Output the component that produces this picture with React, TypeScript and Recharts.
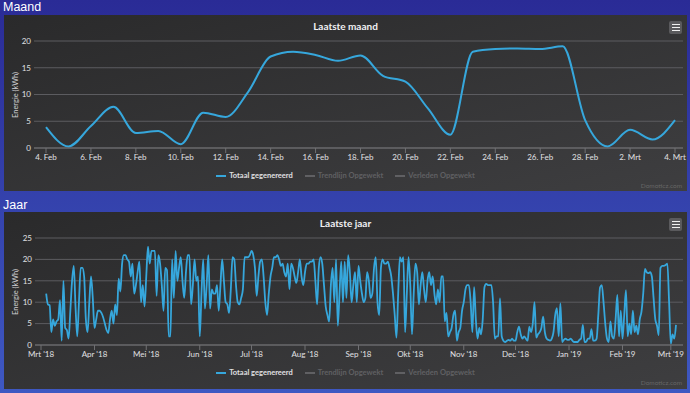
import { LineChart, Line, XAxis, YAxis, CartesianGrid } from "recharts";

const LINE_COLOR = "#36a7dc";
const GRID_COLOR = "#5c5c60";
const AXIS_COLOR = "#707073";
const TEXT_COLOR = "#e0e0e3";
const FONT = "Lato, 'Open Sans', sans-serif";

// Laatste maand: one value per day, 4 Feb - 4 Mrt
const MONTH_DATES = [
  "4. Feb", "5. Feb", "6. Feb", "7. Feb", "8. Feb", "9. Feb", "10. Feb", "11. Feb",
  "12. Feb", "13. Feb", "14. Feb", "15. Feb", "16. Feb", "17. Feb", "18. Feb", "19. Feb",
  "20. Feb", "21. Feb", "22. Feb", "23. Feb", "24. Feb", "25. Feb", "26. Feb", "27. Feb",
  "28. Feb", "1. Mrt", "2. Mrt", "3. Mrt", "4. Mrt",
];
const MONTH_VALUES = [
  3.9, 0.3, 4.1, 7.7, 2.8, 3.2, 0.7, 6.6, 5.8, 10.5, 17.1, 18.0, 17.4, 16.3, 17.3,
  13.5, 12.4, 7.4, 2.5, 18.0, 18.5, 18.6, 18.5, 19.0, 5.2, 0.3, 3.4, 1.6, 5.2,
];
const MONTH_TICKS = [0, 2, 4, 6, 8, 10, 12, 14, 16, 18, 20, 22, 24, 26, 28];
const MONTH_Y_TICKS = [0, 5, 10, 15, 20];

// Laatste jaar: daily values from 4 Mrt 2018 (day 3 after 1 Mrt) to 4 Mrt 2019
const YEAR_FIRST_DAY = 3;
const MRT_18 = [12, 9.5, 9.3, 3, 6, 4.5, 5.5, 6, 10.5, 1, 15, 4, 3.5, 1.5, 8, 15, 18.5, 9, 2, 10, 18, 18, 16, 6, 3, 10, 16, 11];
const APR_18 = [4, 6, 8, 8, 7.5, 6.5, 5, 3.5, 2.8, 6, 8, 5, 9.5, 7, 15.5, 12.5, 19, 21, 21, 20, 19.5, 16, 19, 12, 14, 17, 19.5, 10, 14, 9];
const MEI_18 = [16, 23, 19, 22, 22, 22, 11.5, 21, 19, 14, 8, 18, 17.5, 2, 2, 20, 11, 22, 15, 18, 20.5, 15, 11, 17, 21, 21, 9.5, 14, 20, 15, 16];
const JUN_18 = [2, 12, 20, 8.5, 14, 21, 8.5, 13, 12, 12, 14, 8, 14, 20, 15, 10, 9.5, 7.5, 13, 20.5, 20, 14, 10, 9.5, 11, 13, 20.5, 20.5, 20.5, 21];
const JUL_18 = [22, 21, 18, 11.5, 16, 19.5, 20, 16, 10, 7, 12, 16, 18, 20.5, 20.5, 21, 20, 18.5, 19, 17, 16, 19, 13, 19, 18, 16, 14.5, 17, 20, 16, 14];
const AUG_18 = [17, 19, 19, 19.5, 19.5, 20, 15, 9.5, 18, 20.5, 19, 14, 9, 7, 5.5, 14, 18, 10, 20, 4.5, 12, 19.5, 10, 19.5, 11, 21, 17, 10, 14, 17, 10];
const SEP_18 = [18.5, 15, 12, 10, 11, 17, 15, 11, 12, 18, 20.5, 10, 7, 18, 20, 19, 19, 19.5, 18, 16, 12, 7, 1.7, 12, 20.5, 19.5, 20.5, 3, 12, 20.5];
const OKT_18 = [14, 2.5, 12, 19, 17, 9.5, 14, 17, 13, 10, 15, 17, 14, 16, 12, 9.5, 13, 10, 16, 16, 5.5, 7.5, 2, 3, 4, 7, 8, 1, 3, 4, 8];
const NOV_18 = [10, 13, 14, 14, 10, 3, 13.5, 6, 1.5, 4, 2.5, 6, 13.5, 14.3, 14, 14, 14, 10, 1.5, 2, 2, 10.9, 2, 1, 0.7, 1, 1.2, 1, 1.5, 1];
const DEC_18 = [1, 3, 4.3, 2.5, 1.5, 2, 1.5, 1, 4.3, 3, 5, 10, 1.7, 2.5, 3, 4, 6.6, 3, 1.5, 1.2, 1, 1.5, 3, 7, 8.6, 2, 9.7, 0.7, 1.2, 1.5, 1.2];
const JAN_19 = [1.2, 1.5, 1, 0.7, 0.7, 0.7, 1.2, 1.5, 4.7, 0.7, 0.8, 1.5, 1.5, 3.7, 1, 1, 1.5, 7.2, 13.5, 14, 10, 5, 1.5, 0.7, 5.5, 2, 1.5, 6, 11.7, 2, 8];
const FEB_19 = [1.5, 7, 12.8, 2, 5, 2.5, 8, 3, 4.5, 2.5, 6, 7.8, 12, 17.8, 17, 16.8, 17, 16, 11, 6, 4.5, 2.3, 18, 18.5, 18.5, 18.7, 19, 10];
const MRT_19 = [0.3, 2.5, 1.5, 4.7];

const YEAR_MONTH_TICKS = [0, 31, 61, 92, 122, 153, 184, 214, 245, 275, 306, 337, 365];
const YEAR_MONTH_LABELS = [
  "Mrt '18", "Apr '18", "Mei '18", "Jun '18", "Jul '18", "Aug '18", "Sep '18",
  "Okt '18", "Nov '18", "Dec '18", "Jan '19", "Feb '19", "Mrt '19",
];
const YEAR_Y_TICKS = [0, 5, 10, 15, 20, 25];

const LEGEND_ITEMS = [
  { name: "Totaal gegenereerd", visible: true },
  { name: "Trendlijn Opgewekt", visible: false },
  { name: "Verleden Opgewekt", visible: false },
];

const monthData = MONTH_VALUES.map((value, i) => ({ day: i, value }));

const yearValues = [
  ...MRT_18, ...APR_18, ...MEI_18, ...JUN_18, ...JUL_18, ...AUG_18,
  ...SEP_18, ...OKT_18, ...NOV_18, ...DEC_18, ...JAN_19, ...FEB_19, ...MRT_19,
];
const yearData = yearValues.map((value, i) => ({ day: YEAR_FIRST_DAY + i, value }));

const tickStyle = { fill: TEXT_COLOR, fontSize: 8, fontFamily: FONT };

function ChartLegend() {
  return (
    <div
      style={{
        position: "absolute",
        top: 156,
        left: 0,
        width: "100%",
        display: "flex",
        justifyContent: "center",
        gap: 12,
        fontSize: 7.5,
        fontWeight: 700,
        lineHeight: "10px",
      }}
    >
      {LEGEND_ITEMS.map((item) => (
        <div key={item.name} style={{ display: "flex", alignItems: "center", gap: 3 }}>
          <span
            style={{
              display: "inline-block",
              width: 10,
              height: 2,
              background: item.visible ? LINE_COLOR : "#606063",
            }}
          />
          <span style={{ color: item.visible ? TEXT_COLOR : "#606063" }}>{item.name}</span>
        </div>
      ))}
    </div>
  );
}

function Panel({ top, height, title, children }: { top: number; height: number; title: string; children: any }) {
  return (
    <div
      style={{
        position: "absolute",
        left: 4,
        top,
        width: 683,
        height,
        background: "linear-gradient(to bottom right, #2a2a2b, #3e3e40)",
        fontFamily: FONT,
      }}
    >
      <div style={{ position: "absolute", left: 0, top: 0 }}>{children}</div>
      <div
        style={{
          position: "absolute",
          top: 5,
          width: "100%",
          textAlign: "center",
          color: "#f0f0f3",
          fontSize: 10,
          fontWeight: 700,
          lineHeight: "13px",
        }}
      >
        {title}
      </div>
      <div
        style={{
          position: "absolute",
          left: 665,
          top: 6,
          width: 13,
          height: 13,
          background: "#5a5a5d",
          borderRadius: 2,
          display: "flex",
          flexDirection: "column",
          justifyContent: "center",
          alignItems: "center",
          gap: 1.5,
        }}
      >
        {[0, 1, 2].map((i) => (
          <span key={i} style={{ width: 8, height: 1.5, background: "#f0f0f0" }} />
        ))}
      </div>
      <div
        style={{
          position: "absolute",
          left: 11,
          top: 80,
          transform: "translate(-50%, -50%) rotate(-90deg)",
          whiteSpace: "nowrap",
          color: "#d0d0d3",
          fontSize: 7.5,
        }}
      >
        Energie (kWh)
      </div>
      <ChartLegend />
      <div style={{ position: "absolute", right: 5, top: 167, fontSize: 6.5, color: "#666" }}>Domoticz.com</div>
    </div>
  );
}

export default function App() {
  return (
    <div
      style={{
        position: "absolute",
        left: 0,
        top: 0,
        width: 690,
        height: 393,
        overflow: "hidden",
        background: "linear-gradient(to bottom, #2a2b96, #3e58c2)",
        fontFamily: "'Liberation Sans', Arial, sans-serif",
      }}
    >
      <div style={{ position: "absolute", left: 3, top: 0, color: "#fff", fontSize: 12.5, lineHeight: "15px" }}>Maand</div>
      <Panel top={15} height={176} title="Laatste maand">
        <LineChart width={683} height={176} data={monthData} margin={{ top: 26, right: 4, bottom: 23, left: 0 }}>
          <CartesianGrid vertical={false} stroke={GRID_COLOR} />
          <XAxis
            dataKey="day"
            type="number"
            domain={[0, 28]}
            ticks={MONTH_TICKS}
            interval={0}
            tickFormatter={(d) => MONTH_DATES[d]}
            padding={{ left: 12, right: 8 }}
            stroke={AXIS_COLOR}
            tickSize={5}
            tickMargin={1}
            tick={tickStyle}
            height={20}
          />
          <YAxis
            domain={[0, 20]}
            ticks={MONTH_Y_TICKS}
            interval={0}
            width={30}
            axisLine={false}
            tickLine={false}
            tickSize={3}
            tickMargin={0}
            tick={tickStyle}
          />
          <Line type="monotone" dataKey="value" stroke={LINE_COLOR} strokeWidth={2} dot={false} isAnimationActive={false} />
        </LineChart>
      </Panel>
      <div style={{ position: "absolute", left: 3, top: 198, color: "#fff", fontSize: 12.5, lineHeight: "15px" }}>Jaar</div>
      <Panel top={212} height={177} title="Laatste jaar">
        <LineChart width={683} height={177} data={yearData} margin={{ top: 26, right: 4, bottom: 24, left: 0 }}>
          <CartesianGrid vertical={false} stroke={GRID_COLOR} />
          <XAxis
            dataKey="day"
            type="number"
            domain={[0, 368]}
            ticks={YEAR_MONTH_TICKS}
            interval={0}
            tickFormatter={(d) => YEAR_MONTH_LABELS[YEAR_MONTH_TICKS.indexOf(d)]}
            padding={{ left: 6, right: 7 }}
            stroke={AXIS_COLOR}
            tickSize={5}
            tickMargin={1}
            tick={tickStyle}
            height={20}
          />
          <YAxis
            domain={[0, 25]}
            ticks={YEAR_Y_TICKS}
            interval={0}
            width={31}
            axisLine={false}
            tickLine={false}
            tickSize={3}
            tickMargin={0}
            tick={tickStyle}
          />
          <Line type="monotone" dataKey="value" stroke={LINE_COLOR} strokeWidth={1.8} dot={false} isAnimationActive={false} />
        </LineChart>
      </Panel>
    </div>
  );
}
